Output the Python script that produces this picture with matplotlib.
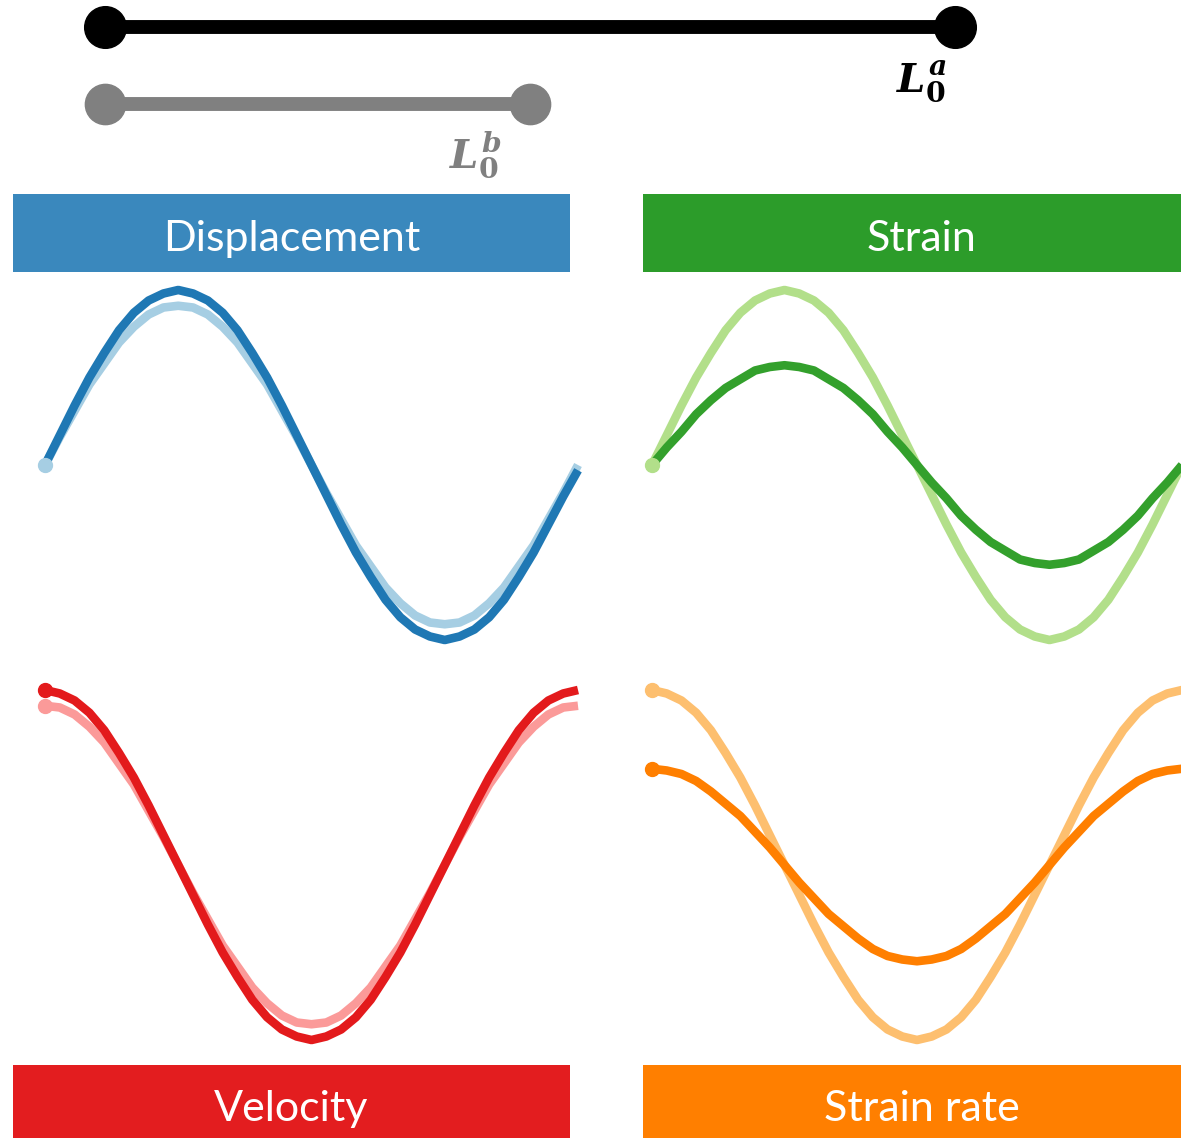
import numpy as np
import matplotlib.pyplot as plt

plt.rcParams['mathtext.fontset'] = 'custom'
plt.rcParams['mathtext.it'] = 'DejaVu Serif:italic:bold'
plt.rcParams['mathtext.rm'] = 'DejaVu Serif:bold'

W, H = 1181, 1138

# phase of the oscillation, degrees
phase = [0, 10, 20, 30, 40, 50, 60, 70, 80, 90, 100, 110, 120, 130, 140, 150, 160, 170, 180,
         190, 200, 210, 220, 230, 240, 250, 260, 270, 280, 290, 300, 310, 320, 330, 340, 350, 360]

# reference lengths (a is twice b)
lengthA = 1.0
lengthB = 0.5

# curves (1 = largest amplitude)
dispLight = [0, 0.16, 0.31, 0.46, 0.58, 0.70, 0.79, 0.86, 0.90, 0.91, 0.90, 0.86, 0.79, 0.70, 0.58, 0.46, 0.31, 0.16, 0,
             -0.16, -0.31, -0.46, -0.58, -0.70, -0.79, -0.86, -0.90, -0.91, -0.90, -0.86, -0.79, -0.70, -0.58, -0.46, -0.31, -0.16, 0]
dispDark = [0, 0.17, 0.34, 0.50, 0.64, 0.77, 0.87, 0.94, 0.98, 1.00, 0.98, 0.94, 0.87, 0.77, 0.64, 0.50, 0.34, 0.17, 0,
            -0.17, -0.34, -0.50, -0.64, -0.77, -0.87, -0.94, -0.98, -1.00, -0.98, -0.94, -0.87, -0.77, -0.64, -0.50, -0.34, -0.18, -0.03]
strainLight = [0, 0.17, 0.34, 0.50, 0.64, 0.77, 0.87, 0.94, 0.98, 1.00, 0.98, 0.94, 0.87, 0.77, 0.64, 0.50, 0.34, 0.17, 0,
               -0.17, -0.34, -0.50, -0.64, -0.77, -0.87, -0.94, -0.98, -1.00, -0.98, -0.94, -0.87, -0.77, -0.64, -0.50, -0.34, -0.17, 0]
strainDark = [0, 0.10, 0.19, 0.29, 0.37, 0.44, 0.49, 0.54, 0.56, 0.57, 0.56, 0.54, 0.49, 0.44, 0.37, 0.29, 0.19, 0.10, 0,
              -0.10, -0.19, -0.29, -0.37, -0.44, -0.49, -0.54, -0.56, -0.57, -0.56, -0.54, -0.49, -0.44, -0.37, -0.29, -0.19, -0.10, 0]
velLight = [0.91, 0.90, 0.86, 0.79, 0.70, 0.58, 0.46, 0.31, 0.16, 0, -0.16, -0.31, -0.46, -0.58, -0.70, -0.79, -0.86, -0.90, -0.91,
            -0.90, -0.86, -0.79, -0.70, -0.58, -0.46, -0.31, -0.16, 0, 0.16, 0.31, 0.46, 0.58, 0.70, 0.79, 0.86, 0.90, 0.91]
velDark = [1.00, 0.98, 0.94, 0.87, 0.77, 0.64, 0.50, 0.34, 0.17, 0, -0.17, -0.34, -0.50, -0.64, -0.77, -0.87, -0.94, -0.98, -1.00,
           -0.98, -0.94, -0.87, -0.77, -0.64, -0.50, -0.34, -0.17, 0, 0.17, 0.34, 0.50, 0.64, 0.77, 0.87, 0.94, 0.98, 1.00]
rateLight = [1.00, 0.98, 0.94, 0.87, 0.77, 0.64, 0.50, 0.34, 0.17, 0, -0.17, -0.34, -0.50, -0.64, -0.77, -0.87, -0.94, -0.98, -1.00,
             -0.98, -0.94, -0.87, -0.77, -0.64, -0.50, -0.34, -0.17, 0, 0.17, 0.34, 0.50, 0.64, 0.77, 0.87, 0.94, 0.98, 1.00]
rateDark = [0.55, 0.54, 0.52, 0.48, 0.42, 0.35, 0.28, 0.19, 0.10, 0, -0.10, -0.19, -0.28, -0.35, -0.42, -0.48, -0.52, -0.54, -0.55,
            -0.54, -0.52, -0.48, -0.42, -0.35, -0.28, -0.19, -0.10, 0, 0.10, 0.19, 0.28, 0.35, 0.42, 0.48, 0.52, 0.54, 0.55]

titles = ['Displacement', 'Strain', 'Velocity', 'Strain rate']
headerColors = ['#3a88bd', '#2c9c2a', '#e31d1f', '#ff7f00']

headerFont = {'family': 'Lato', 'size': 31, 'color': 'white'}
curveStyle = {'linewidth': 6.2, 'solid_capstyle': 'butt', 'solid_joinstyle': 'round', 'clip_on': False}
dotStyle = {'marker': 'o', 'markersize': 10, 'ls': '', 'clip_on': False}


def pxAxes(fig, x0, y0, x1, y1):
    # axes placed by pixel box (top-left origin)
    ax = fig.add_axes([x0 / W, 1 - y1 / H, (x1 - x0) / W, (y1 - y0) / H])
    ax.set_axis_off()
    return ax


fig = plt.figure(figsize=(W / 100, H / 100), dpi=100)

# top: the two reference lengths
ax = pxAxes(fig, 105, 27, 955, 104)
ax.set_xlim(0, 1)
ax.set_ylim(1, 0)
ax.plot([0, lengthA], [0, 0], color='black', lw=10, solid_capstyle='butt', clip_on=False)
ax.plot([0, lengthA], [0, 0], 'o', color='black', ms=30, clip_on=False)
ax.plot([0, lengthB], [1, 1], color='#808080', lw=10, solid_capstyle='butt', clip_on=False)
ax.plot([0, lengthB], [1, 1], 'o', color='#808080', ms=29, clip_on=False)
ax.text(lengthA - 0.04, 0.85, r'$L_0^a$', fontsize=29, color='black', ha='center', va='baseline')
ax.text(lengthB - 0.065, 1.85, r'$L_0^b$', fontsize=29, color='#808080', ha='center', va='baseline')

# header boxes
headerBoxes = [(13, 194, 570, 272), (643, 194, 1200, 272),
               (13, 1065, 570, 1138), (643, 1065, 1200, 1138)]
baselines = [0.265, 0.265, 0.235, 0.235]
for i in range(4):
    hx = pxAxes(fig, *headerBoxes[i])
    hx.set_axis_on()
    hx.set_xticks([])
    hx.set_yticks([])
    for s in hx.spines.values():
        s.set_visible(False)
    hx.set_facecolor(headerColors[i])
    hx.text(0.5, baselines[i], titles[i], ha='center', va='baseline', transform=hx.transAxes, **headerFont)

# curve panels: (box, light, dark, light colour, dark colour)
panels = [((45, 290, 578, 640), dispLight, dispDark, '#a6cee3', '#1f78b4'),
          ((652, 290, 1182, 640), strainLight, strainDark, '#b2df8a', '#33a02c'),
          ((45, 690, 578, 1040), velLight, velDark, '#fb9a99', '#e31a1c'),
          ((652, 690, 1182, 1040), rateLight, rateDark, '#fdbf6f', '#ff7f00')]

for i, (box, light, dark, cLight, cDark) in enumerate(panels):
    px = pxAxes(fig, *box)
    px.set_xlim(0, 360)
    px.set_ylim(-1, 1)
    px.plot(phase, light, color=cLight, **curveStyle)
    px.plot(phase, dark, color=cDark, **curveStyle)
    if i < 2:
        # both curves start from the same point
        px.plot(phase[0], light[0], color=cLight, **dotStyle)
    else:
        px.plot(phase[0], light[0], color=cLight, **dotStyle)
        px.plot(phase[0], dark[0], color=cDark, **dotStyle)

fig.savefig('out.png', dpi=100)
